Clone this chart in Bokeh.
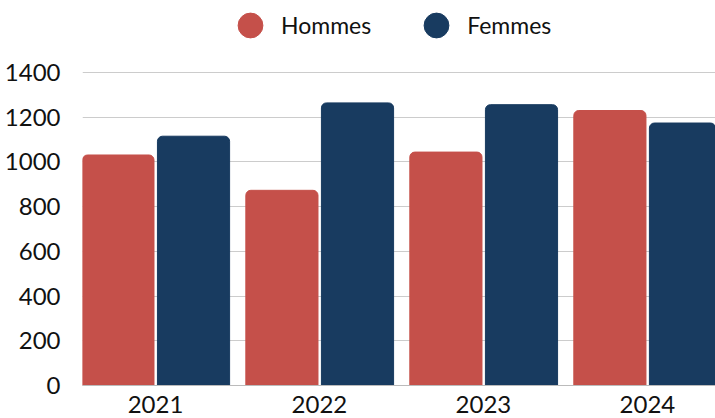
from bokeh.plotting import figure
from bokeh.models import Range1d, FixedTicker, Legend, LegendItem, ColumnDataSource
from bokeh.transform import dodge
from bokeh.embed import file_html
from bokeh.resources import INLINE

years = ["2021", "2022", "2023", "2024"]
hommes = [1031, 873, 1044, 1230]
femmes = [1115, 1264, 1256, 1174]
y_ticks = [0, 200, 400, 600, 800, 1000, 1200, 1400]

RED = "#C5504A"
NAVY = "#183B60"
FONT = "Lato"

xs = list(range(len(years)))
src = ColumnDataSource(dict(x=xs, hommes=hommes, femmes=femmes))

p = figure(width=715, height=418, output_backend="svg", toolbar_location=None,
           x_range=Range1d(-0.445, 3.415), y_range=Range1d(0, 1722),
           min_border_left=82, min_border_right=0, min_border_top=0, min_border_bottom=33)
p.outline_line_color = None

p.vbar(x=dodge("x", -0.229), top="hommes", source=src, width=0.44,
       fill_color=RED, line_color=RED, border_radius=(5, 5, 0, 0))
p.vbar(x=dodge("x", 0.232), top="femmes", source=src, width=0.44,
       fill_color=NAVY, line_color=NAVY, border_radius=(5, 5, 0, 0))

d1 = p.scatter(x=[-10], y=[-10], size=26, marker="circle", fill_color=RED, line_color=RED)
d2 = p.scatter(x=[-10], y=[-10], size=26, marker="circle", fill_color=NAVY, line_color=NAVY)

legend = Legend(items=[LegendItem(label="Hommes", renderers=[d1]),
                       LegendItem(label="Femmes", renderers=[d2])],
                orientation="horizontal", location=(137, 329),
                label_text_font=FONT, label_text_font_size="23px", label_text_color="#111111",
                glyph_width=62, glyph_height=62, label_standoff=0, spacing=34,
                border_line_color=None, background_fill_alpha=0, padding=0, margin=0)
p.add_layout(legend, "center")

p.xaxis.ticker = FixedTicker(ticks=xs)
p.xaxis.major_label_overrides = {i: y for i, y in enumerate(years)}
p.yaxis.ticker = FixedTicker(ticks=y_ticks)

for ax in (p.xaxis[0], p.yaxis[0]):
    ax.major_tick_line_color = None
    ax.minor_tick_line_color = None
    ax.major_label_text_font = FONT
    ax.major_label_text_font_size = "24px"
    ax.major_label_text_color = "#111111"
p.yaxis.axis_line_color = None
p.yaxis.major_label_standoff = 16
p.xaxis.axis_line_color = "#bbbbbb"
p.xaxis.major_label_standoff = 4

p.xgrid.grid_line_color = None
p.ygrid.grid_line_color = "#cccccc"
p.ygrid.grid_line_width = 1

open("out.html", "w").write(file_html(p, INLINE))
